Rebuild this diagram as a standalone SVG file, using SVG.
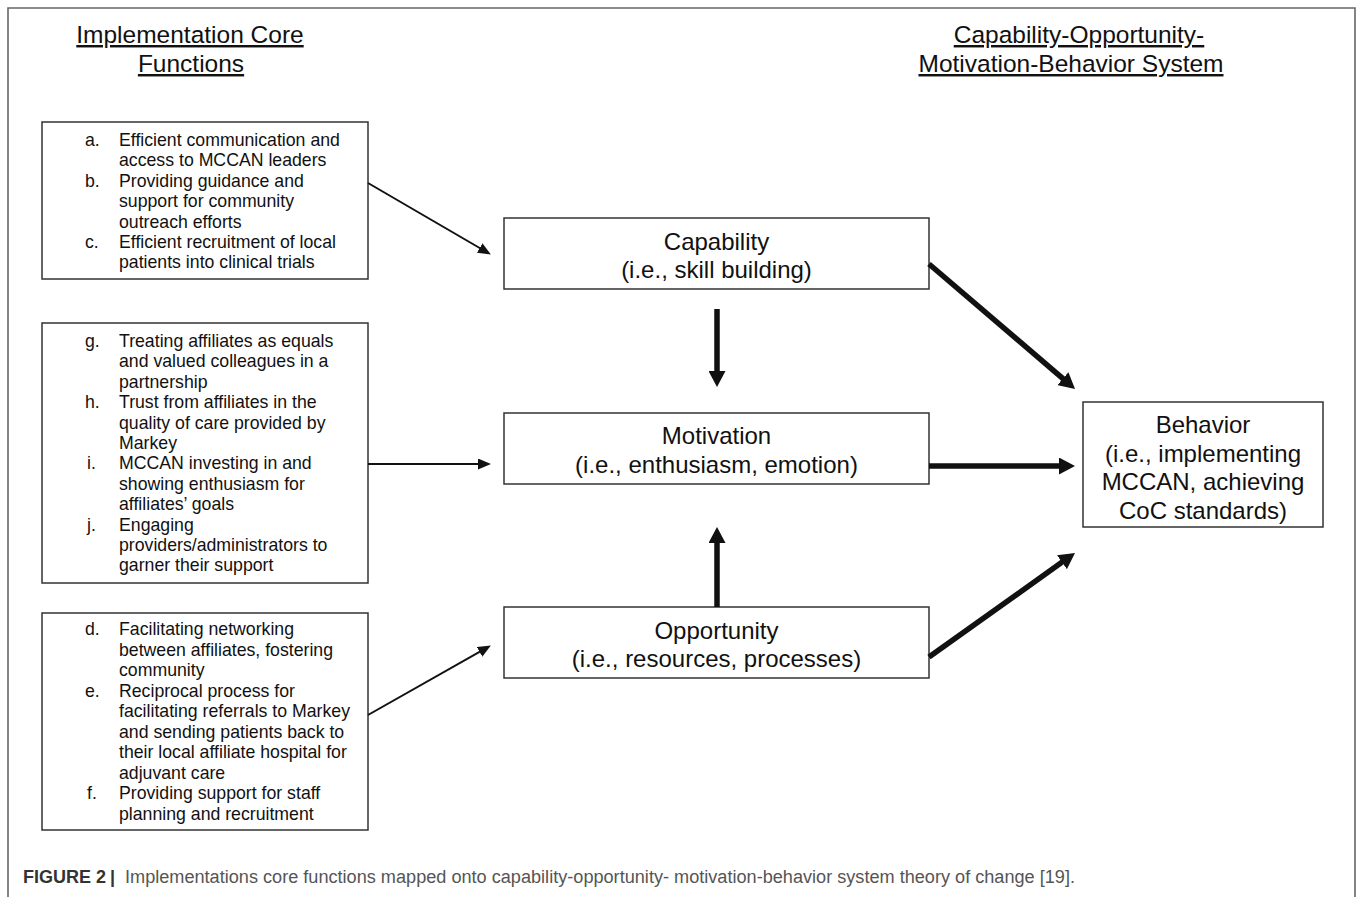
<svg xmlns="http://www.w3.org/2000/svg" width="1358" height="897" viewBox="0 0 1358 897">
<style>
.frame{fill:none;stroke:#666;stroke-width:1.6}
.box{fill:#fff;stroke:#333;stroke-width:1.5}
.head{font-family:"Liberation Sans",Arial,sans-serif;font-size:24.5px;fill:#111;text-anchor:middle;text-decoration:underline}
.list{font-family:"Liberation Sans",Arial,sans-serif;font-size:17.7px;fill:#111}
.main{font-family:"Liberation Sans",Arial,sans-serif;font-size:24px;fill:#111;text-anchor:middle}
.thin{stroke:#111;stroke-width:2;fill:none}
.thick{stroke:#111;stroke-width:5.5;fill:none}
.cap{font-family:"Liberation Sans",Arial,sans-serif;font-size:18px}
</style>
<defs>
<marker id="ah" markerUnits="userSpaceOnUse" markerWidth="13" markerHeight="11" viewBox="0 0 13 11" refX="2" refY="5.5" orient="auto"><path d="M0,0 L13,5.5 L0,11 z" fill="#111"/></marker>
<marker id="ahb" markerUnits="userSpaceOnUse" markerWidth="16" markerHeight="17" viewBox="0 0 16 17" refX="2" refY="8.5" orient="auto"><path d="M0,0 L16,8.5 L0,17 z" fill="#111"/></marker>
</defs>
<rect width="1358" height="897" fill="#fff"/>
<path class="frame" d="M8,897 V8 H1355 V897"/>

<g id="heading-left">
<text class="head" x="190" y="43">Implementation Core</text>
<text class="head" x="191" y="72">Functions</text>
</g>
<g id="heading-right">
<text class="head" x="1079" y="43">Capability-Opportunity-</text>
<text class="head" x="1071" y="72">Motivation-Behavior System</text>
</g>

<g id="functions-abc">
<rect class="box" x="42" y="122" width="326" height="157"/>
<text class="list" x="85" y="146">a.</text>
<text class="list" x="119" y="146">Efficient communication and</text>
<text class="list" x="119" y="166.4">access to MCCAN leaders</text>
<text class="list" x="85" y="186.8">b.</text>
<text class="list" x="119" y="186.8">Providing guidance and</text>
<text class="list" x="119" y="207.2">support for community</text>
<text class="list" x="119" y="227.6">outreach efforts</text>
<text class="list" x="85" y="248">c.</text>
<text class="list" x="119" y="248">Efficient recruitment of local</text>
<text class="list" x="119" y="268.4">patients into clinical trials</text>
</g>

<g id="functions-ghij">
<rect class="box" x="42" y="323" width="326" height="260"/>
<text class="list" x="85" y="347">g.</text>
<text class="list" x="119" y="347">Treating affiliates as equals</text>
<text class="list" x="119" y="367.4">and valued colleagues in a</text>
<text class="list" x="119" y="387.8">partnership</text>
<text class="list" x="85" y="408.2">h.</text>
<text class="list" x="119" y="408.2">Trust from affiliates in the</text>
<text class="list" x="119" y="428.6">quality of care provided by</text>
<text class="list" x="119" y="449">Markey</text>
<text class="list" x="87" y="469.4">i.</text>
<text class="list" x="119" y="469.4">MCCAN investing in and</text>
<text class="list" x="119" y="489.8">showing enthusiasm for</text>
<text class="list" x="119" y="510.2">affiliates’ goals</text>
<text class="list" x="87" y="530.6">j.</text>
<text class="list" x="119" y="530.6">Engaging</text>
<text class="list" x="119" y="551">providers/administrators to</text>
<text class="list" x="119" y="571.4">garner their support</text>
</g>

<g id="functions-def">
<rect class="box" x="42" y="613" width="326" height="217"/>
<text class="list" x="85" y="635">d.</text>
<text class="list" x="119" y="635">Facilitating networking</text>
<text class="list" x="119" y="655.5">between affiliates, fostering</text>
<text class="list" x="119" y="676">community</text>
<text class="list" x="85" y="696.5">e.</text>
<text class="list" x="119" y="696.5">Reciprocal process for</text>
<text class="list" x="119" y="717">facilitating referrals to Markey</text>
<text class="list" x="119" y="737.5">and sending patients back to</text>
<text class="list" x="119" y="758">their local affiliate hospital for</text>
<text class="list" x="119" y="778.5">adjuvant care</text>
<text class="list" x="87" y="799">f.</text>
<text class="list" x="119" y="799">Providing support for staff</text>
<text class="list" x="119" y="819.5">planning and recruitment</text>
</g>

<g id="capability">
<rect class="box" x="504" y="218" width="425" height="71"/>
<text class="main" x="716.5" y="249.5">Capability</text>
<text class="main" x="716.5" y="278">(i.e., skill building)</text>
</g>
<g id="motivation">
<rect class="box" x="504" y="413" width="425" height="71"/>
<text class="main" x="716.5" y="444">Motivation</text>
<text class="main" x="716.5" y="472.5">(i.e., enthusiasm, emotion)</text>
</g>
<g id="opportunity">
<rect class="box" x="504" y="607" width="425" height="71"/>
<text class="main" x="716.5" y="638.5">Opportunity</text>
<text class="main" x="716.5" y="667">(i.e., resources, processes)</text>
</g>
<g id="behavior">
<rect class="box" x="1083" y="402" width="240" height="125"/>
<text class="main" x="1203" y="433">Behavior</text>
<text class="main" x="1203" y="461.5">(i.e., implementing</text>
<text class="main" x="1203" y="490">MCCAN, achieving</text>
<text class="main" x="1203" y="518.5">CoC standards)</text>
</g>

<g id="connectors">
<line class="thin" x1="368" y1="183" x2="481.4" y2="249" marker-end="url(#ah)"/>
<line class="thin" x1="368" y1="464" x2="480" y2="464" marker-end="url(#ah)"/>
<line class="thin" x1="368" y1="715" x2="481.3" y2="650.9" marker-end="url(#ah)"/>
<line class="thick" x1="717" y1="309" x2="717" y2="373" marker-end="url(#ahb)"/>
<line class="thick" x1="717" y1="607" x2="717" y2="541" marker-end="url(#ahb)"/>
<line class="thick" x1="929" y1="264" x2="1064.4" y2="379.9" marker-end="url(#ahb)"/>
<line class="thick" x1="929" y1="466" x2="1061" y2="466" marker-end="url(#ahb)"/>
<line class="thick" x1="929" y1="657" x2="1063.6" y2="561.1" marker-end="url(#ahb)"/>
</g>

<g id="caption">
<text class="cap" x="23" y="882.5" fill="#333" font-weight="bold" font-size="17.5">FIGURE 2</text>
<text class="cap" x="110" y="882.5" fill="#333" font-weight="bold">|</text>
<text class="cap" x="125" y="882.5" fill="#555" textLength="950" lengthAdjust="spacingAndGlyphs">Implementations core functions mapped onto capability-opportunity- motivation-behavior system theory of change [19].</text>
</g>
</svg>
